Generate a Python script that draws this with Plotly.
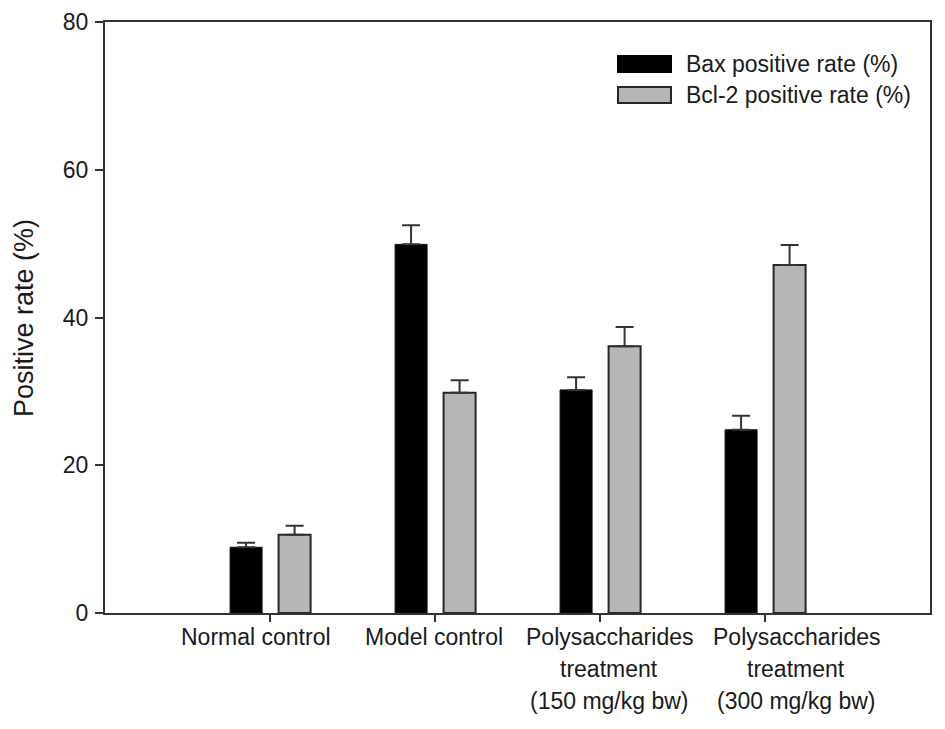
import plotly.graph_objects as go

categories = ["Normal control", "Model control",
              "Polysaccharides treatment (150 mg/kg bw)",
              "Polysaccharides treatment (300 mg/kg bw)"]
category_lines = [["Normal control"], ["Model control"],
                  ["Polysaccharides", "treatment", "(150 mg/kg bw)"],
                  ["Polysaccharides", "treatment", "(300 mg/kg bw)"]]
bax_values = [8.9, 49.9, 30.2, 24.8]
bax_errors = [0.6, 2.6, 1.7, 1.9]
bcl2_values = [10.6, 29.8, 36.1, 47.1]
bcl2_errors = [1.2, 1.7, 2.6, 2.7]
series_names = ["Bax positive rate (%)", "Bcl-2 positive rate (%)"]
y_ticks = [0, 20, 40, 60, 80]

FONT = "Liberation Sans, Arial, sans-serif"
TXT = "#1a1a1a"
xpos = list(range(len(categories)))

fig = go.Figure()
fig.add_trace(go.Bar(
    x=xpos, y=bax_values, name=series_names[0],
    width=0.194, offset=-0.242,
    marker=dict(color="#000000", line=dict(color="#111111", width=1)),
    error_y=dict(type="data", array=bax_errors, arrayminus=[0]*4, symmetric=False,
                 color="#333333", thickness=2, width=9),
))
fig.add_trace(go.Bar(
    x=xpos, y=bcl2_values, name=series_names[1],
    width=0.194, offset=0.052,
    marker=dict(color="#b6b6b6", line=dict(color="#262626", width=2)),
    error_y=dict(type="data", array=bcl2_errors, arrayminus=[0]*4, symmetric=False,
                 color="#333333", thickness=2, width=9),
))

OFF = 8  # page body margin
# desired screen positions of the plot box
SX0, SX1, SY0, SY1 = 105, 930, 22, 613
L = SX0 - OFF
T = SY0 - OFF
R = 15
B = 116
W = SX1 - OFF + R
H = SY1 - OFF + B
pw, ph = SX1 - SX0, SY1 - SY0

def px(xs):
    return (xs - SX0) / pw

def py(ys):
    return (SY1 - ys) / ph

shapes = []
annotations = []
# legend
legend_rows = [(64, "#000000", "#000000"), (95, "#b6b6b6", "#262626")]
for (cy, fill, line), name in zip(legend_rows, series_names):
    shapes.append(dict(type="rect", xref="paper", yref="paper",
                       x0=px(618), x1=px(671), y0=py(cy - 8), y1=py(cy + 8),
                       fillcolor=fill, line=dict(color=line, width=2)))
    annotations.append(dict(xref="paper", yref="paper", x=px(684), y=py(cy),
                            text=name, showarrow=False, xanchor="left", yanchor="middle",
                            font=dict(family=FONT, size=23, color=TXT)))

# category labels (centres slightly offset from ticks, as in the original)
label_shift = [-14, -1, 9, 31]
for i, lines in enumerate(category_lines):
    for j, t in enumerate(lines):
        annotations.append(dict(xref="x", yref="paper", x=i, y=py(637 + 31.8 * j),
                                xshift=label_shift[i],
                                text=t, showarrow=False, xanchor="center", yanchor="middle",
                                font=dict(family=FONT, size=23, color=TXT)))

# y-axis title
annotations.append(dict(xref="paper", yref="paper", x=px(24), y=py(318),
                        text="Positive rate (%)", textangle=-90, showarrow=False,
                        xanchor="center", yanchor="middle",
                        font=dict(family=FONT, size=27, color=TXT)))

fig.update_layout(
    width=W, height=H,
    margin=dict(l=L, r=R, t=T, b=B, autoexpand=False),
    paper_bgcolor="white", plot_bgcolor="white",
    showlegend=False, barmode="overlay",
    shapes=shapes, annotations=annotations,
    font=dict(family=FONT, color=TXT),
)
fig.update_xaxes(range=[-1, 4], tickvals=xpos, ticktext=[""] * 4, automargin=False,
                 ticks="outside", ticklen=7, tickwidth=1.5, tickcolor="#333333",
                 showline=True, linecolor="#333333", linewidth=2, mirror=True,
                 showgrid=False, zeroline=False)
fig.update_yaxes(range=[0, 80], tickvals=y_ticks, automargin=False,
                 ticks="outside", ticklen=8, tickwidth=1.5, tickcolor="#333333",
                 ticklabelstandoff=2,
                 tickfont=dict(family=FONT, size=23, color=TXT),
                 showline=True, linecolor="#333333", linewidth=2, mirror=True,
                 showgrid=False, zeroline=False)

fig.write_html("out.html")
